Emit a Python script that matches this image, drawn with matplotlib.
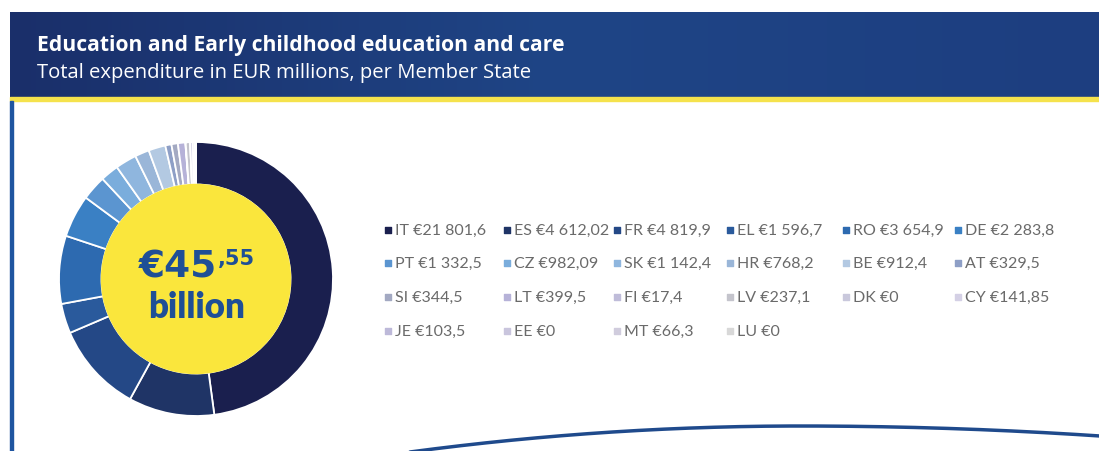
import numpy as np
import matplotlib.pyplot as plt
from matplotlib.patches import Rectangle, Circle
from matplotlib.colors import LinearSegmentedColormap

# data (EUR millions per Member State)
countries = ["IT", "ES", "FR", "EL", "RO", "DE", "PT", "CZ", "SK", "HR", "BE", "AT",
             "SI", "LT", "FI", "LV", "DK", "CY", "JE", "EE", "MT", "LU"]
values = [21801.6, 4612.02, 4819.9, 1596.7, 3654.9, 2283.8, 1332.5, 982.09, 1142.4, 768.2,
          912.4, 329.5, 344.5, 399.5, 17.4, 237.1, 0, 141.85, 103.5, 0, 66.3, 0]
value_labels = ["21 801,6", "4 612,02", "4 819,9", "1 596,7", "3 654,9", "2 283,8",
                "1 332,5", "982,09", "1 142,4", "768,2", "912,4", "329,5",
                "344,5", "399,5", "17,4", "237,1", "0", "141,85",
                "103,5", "0", "66,3", "0"]
colors = ["#1a1f4e", "#1f3466", "#244886", "#2a5a9c", "#2d6ab0", "#3a80c4",
          "#5b95d0", "#7aaddc", "#8fb6de", "#9ab6d8", "#b3c9e2", "#8e9fc6",
          "#a3a9c2", "#b6b2d8", "#bfbcd9", "#c4c4cc", "#c9c8dc", "#d4d0e5",
          "#bdb9d9", "#c9c5dd", "#d0ccdd", "#d8d8d8"]

W, H = 1099, 452
plt.rcParams['font.family'] = ['Lato', 'DejaVu Sans']
fig = plt.figure(figsize=(W / 100, H / 100), dpi=100)

# background layer in pixel coordinates
bg = fig.add_axes([0, 0, 1, 1])
bg.axis("off")

# header banner with gradient
grad = LinearSegmentedColormap.from_list("hdr", ["#1a2f6a", "#1f4586", "#1d3e80"])
bg.imshow(np.linspace(0, 1, 256)[None, :], cmap=grad, aspect="auto",
          extent=[10, W, 98, 13], zorder=1)
bg.add_patch(Rectangle((10, 98), W - 10, 4, color="#f5e24c", zorder=2))
bg.add_patch(Rectangle((10, 102), 3, H - 102, color="#1f55a0", zorder=2))
bg.set_xlim(0, W)
bg.set_ylim(H, 0)

bg.text(37, 46, "Education and Early childhood education and care", color="white",
        fontsize=15.2, fontweight="bold", va="center", family=["Open Sans", "DejaVu Sans"], zorder=3)
bg.text(37, 73, "Total expenditure in EUR millions, per Member State", color="white",
        fontsize=14.6, va="center", family=["Open Sans", "DejaVu Sans"], zorder=3)

# wave line at bottom
wx = np.linspace(410, W, 300)
wy = np.where(wx < 800, 427 + 26 * ((wx - 800) / 390) ** 2, 427 + 10 * ((wx - 800) / 300) ** 2)
bg.plot(wx, wy, color="#1f4a8c", lw=2.5, zorder=2, solid_capstyle="round")

# donut
cx, cy, r = 196, 280, 137
pie_ax = fig.add_axes([(cx - r) / W, (H - cy - r) / H, 2 * r / W, 2 * r / H])
pie_ax.pie(values, colors=colors, startangle=90, counterclock=False,
           wedgeprops=dict(width=0.31, edgecolor="white", linewidth=1.3))
pie_ax.add_patch(Circle((0, 0), 0.69, color="#fae63c", zorder=5))
pie_ax.set_xlim(-1, 1)
pie_ax.set_ylim(-1, 1)
pie_ax.set_aspect("equal")
pie_ax.axis("off")


def px(x, y):
    return (x - cx) / r, (cy - y) / r


total_bn = sum(values) / 1000
big, small = f"{total_bn:.2f}".split(".")
txt_col = "#1f4f96"
wide_font = ["DejaVu Sans"]
pie_ax.text(*px(217, 278), f"€{big}", color=txt_col, fontsize=27, fontweight="bold",
            ha="right", va="baseline", zorder=10, family=wide_font)
pie_ax.text(*px(218, 265), f",{small}", color=txt_col, fontsize=15, fontweight="bold",
            ha="left", va="baseline", zorder=10, family=wide_font)
pie_ax.text(*px(197, 318), "billion", color=txt_col, fontsize=25, fontweight="heavy",
            ha="center", va="baseline", zorder=10, family=["Lato", "DejaVu Sans"])

# legend grid
col_x = [388, 507, 617, 730, 846, 958]
row_y = [231, 264, 298, 332]
for i, (c, lab, col) in enumerate(zip(countries, value_labels, colors)):
    x = col_x[i % 6]
    y = row_y[i // 6]
    bg.scatter([x], [y], marker="s", s=14, color=col, zorder=3)
    bg.text(x + 7, y, f"{c} €{lab}", color="#6a6a6a", fontsize=11.5, va="center", zorder=3)

fig.savefig("out.png", dpi=100)
